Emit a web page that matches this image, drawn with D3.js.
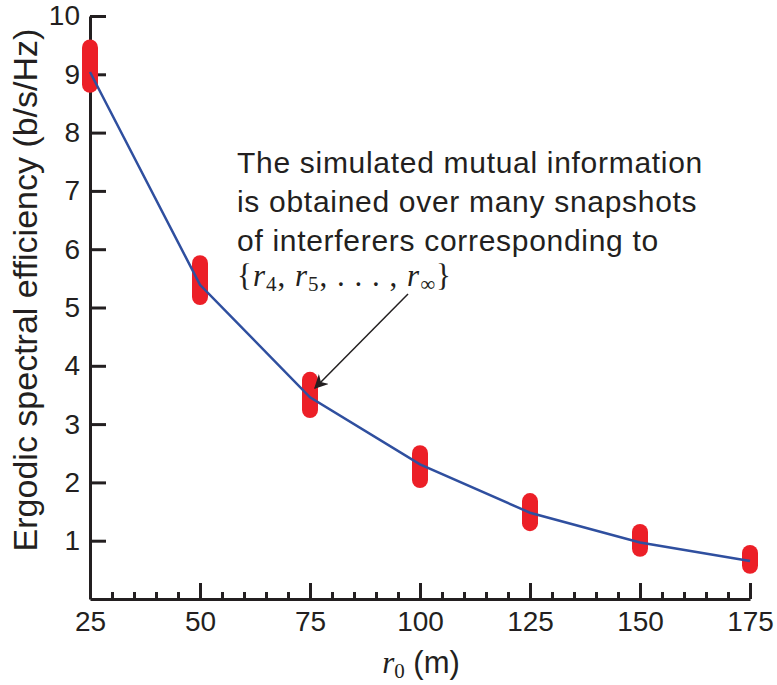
<!doctype html>
<html lang="en">
<head>
 <meta charset="utf-8">
 <title>Ergodic spectral efficiency vs r0</title>
 <style>
 body{margin:0;background:#fff;}
 svg text{font-family:"Liberation Sans",Helvetica,Arial,sans-serif;fill:#231f20;}
 .axis path,.axis line{stroke:#231f20;stroke-width:3px;}
 .axis text{font-size:28px;}
 .math{font-family:"Liberation Serif","DejaVu Serif",serif;}
 </style>
 <script src="https://cdnjs.cloudflare.com/ajax/libs/d3/7.8.5/d3.min.js"></script>
</head>
<body>
 <svg width="777" height="685"></svg>
 <script>

 // r0 values (m)
 const radii=[25,50,75,100,125,150,175];
 // analytical ergodic spectral efficiency (blue line)
 const meanSE=[9.04,5.39,3.46,2.31,1.48,0.97,0.65];
 // spread of simulated snapshots (red bars)
 const snapLow=[8.82,5.18,3.24,2.04,1.30,0.86,0.57];
 const snapHigh=[9.46,5.76,3.76,2.50,1.68,1.15,0.79];

 const xTicks=[25,50,75,100,125,150,175];
 const xMinor=d3.range(25,176,5);
 const yTicks=[1,2,3,4,5,6,7,8,9,10];

 const svg=d3.select("svg");

 const margin={left:90,right:27,top:16,bottom:86};
 const width=777-margin.left-margin.right;
 const height=685-margin.top-margin.bottom;

 const xScale=d3.scaleLinear().domain([25,175]).range([0,width]);
 const yScale=d3.scaleLinear().domain([0,10]).range([height,0]);

 const g=svg.append("g")
 .attr("transform",`translate(${margin.left},${margin.top})`);

 // minor x ticks
 g.append("g")
 .attr("class","axis")
 .attr("transform",`translate(0,${height})`)
 .call(d3.axisBottom(xScale).tickValues(xMinor).tickSize(-7).tickFormat(""))
 .call(s=>s.select(".domain").remove());

 // major x ticks
 g.append("g")
 .attr("class","axis")
 .attr("transform",`translate(0,${height})`)
 .call(d3.axisBottom(xScale).tickValues(xTicks).tickSizeInner(-16).tickSizeOuter(0).tickPadding(12))
 .selectAll("text").attr("fill","#231f20");

 g.append("g")
 .attr("class","axis")
 .call(d3.axisLeft(yScale).tickValues(yTicks).tickSizeInner(-16).tickSizeOuter(0).tickPadding(10))
 .selectAll("text").attr("fill","#231f20");

 const data=radii.map((r,i)=>({r:r,m:meanSE[i],lo:snapLow[i],hi:snapHigh[i]}));

 // snapshot spread
 g.append("g")
 .selectAll("line")
 .data(data)
 .enter()
 .append("line")
 .attr("x1",d=>xScale(d.r))
 .attr("x2",d=>xScale(d.r))
 .attr("y1",d=>yScale(d.lo))
 .attr("y2",d=>yScale(d.hi))
 .attr("stroke","#ec1f27")
 .attr("stroke-width",16)
 .attr("stroke-linecap","round");

 const line=d3.line()
 .x(d=>xScale(d.r))
 .y(d=>yScale(d.m));

 g.append("path")
 .datum(data)
 .attr("d",line)
 .attr("fill","none")
 .attr("stroke","#2f4f9f")
 .attr("stroke-width",2.5);

 // annotation
 const notes=["The simulated mutual information","is obtained over many snapshots","of interferers corresponding to"];
 svg.append("g")
 .selectAll("text")
 .data(notes)
 .enter()
 .append("text")
 .attr("x",237)
 .attr("y",(d,i)=>173+i*39)
 .style("font-size","30px")
 .style("letter-spacing","0.7px")
 .text(d=>d);

 const m=svg.append("text")
 .attr("class","math")
 .attr("x",237)
 .attr("y",286)
 .style("font-size","31px")
 .style("letter-spacing","1px")
 .attr("xml:space","preserve");
 m.append("tspan").text("{");
 m.append("tspan").attr("font-style","italic").text("r");
 m.append("tspan").attr("font-size","21px").attr("dy",5).text("4");
 m.append("tspan").attr("dy",-5).text(", ");
 m.append("tspan").attr("font-style","italic").text("r");
 m.append("tspan").attr("font-size","21px").attr("dy",5).text("5");
 m.append("tspan").attr("dy",-5).text(", . . . , ");
 m.append("tspan").attr("font-style","italic").text("r");
 m.append("tspan").attr("font-size","21px").attr("dy",5).text("\u221e");
 m.append("tspan").attr("dy",-5).text("}");

 svg.append("defs").append("marker")
 .attr("id","head")
 .attr("viewBox","0 0 10 10")
 .attr("refX",9).attr("refY",5)
 .attr("markerWidth",14).attr("markerHeight",14)
 .attr("markerUnits","userSpaceOnUse")
 .attr("orient","auto")
 .append("path")
 .attr("d","M0,0 L10,5 L0,10 L3,5 Z")
 .attr("fill","#231f20");

 const tip=[xScale(75)+margin.left+5,yScale(3.62)+margin.top];
 svg.append("line")
 .attr("x1",408).attr("y1",294)
 .attr("x2",tip[0]).attr("y2",tip[1])
 .attr("stroke","#231f20")
 .attr("stroke-width",1.5)
 .attr("marker-end","url(#head)");

 // axis labels
 svg.append("text")
 .attr("transform","translate(37,290) rotate(-90)")
 .attr("text-anchor","middle")
 .style("font-size","34px")
 .text("Ergodic spectral efficiency (b/s/Hz)");

 const xl=svg.append("text")
 .attr("x",421)
 .attr("y",673)
 .attr("text-anchor","middle")
 .style("font-size","31px");
 xl.append("tspan").attr("class","math").attr("font-style","italic").text("r");
 xl.append("tspan").attr("class","math").attr("font-size","21px").attr("dy",5).text("0");
 xl.append("tspan").attr("dy",-5).text(" (m)");

 </script>
</body>
</html>
